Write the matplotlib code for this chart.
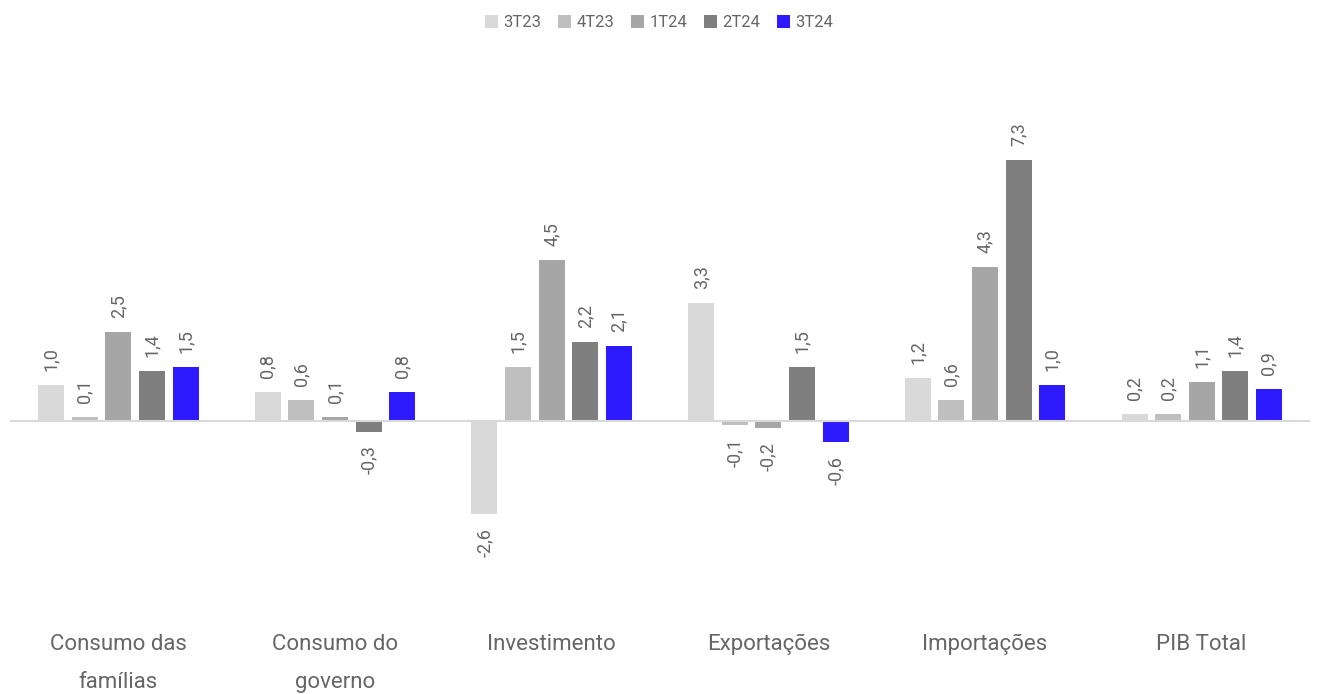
import numpy as np
import matplotlib.pyplot as plt

plt.rcParams['font.family'] = ['Roboto', 'DejaVu Sans']

categorias = ["Consumo das\nfamílias", "Consumo do\ngoverno", "Investimento",
              "Exportações", "Importações", "PIB Total"]
trimestres = ["3T23", "4T23", "1T24", "2T24", "3T24"]
valores = {
    "3T23": [1.0, 0.8, -2.6, 3.3, 1.2, 0.2],
    "4T23": [0.1, 0.6, 1.5, -0.1, 0.6, 0.2],
    "1T24": [2.5, 0.1, 4.5, -0.2, 4.3, 1.1],
    "2T24": [1.4, -0.3, 2.2, 1.5, 7.3, 1.4],
    "3T24": [1.5, 0.8, 2.1, -0.6, 1.0, 0.9],
}
cores = ["#d9d9d9", "#bfbfbf", "#a6a6a6", "#7f7f7f", "#2e1aff"]

fig = plt.figure(figsize=(13.18, 6.94), dpi=100)
ax = fig.add_axes([10/1318, 1 - 610/694, 1300/1318, 550/694])

x = np.arange(len(categorias))
largura = 0.12
passo = 0.155
texto = "#666666"

for i, (t, c) in enumerate(zip(trimestres, cores)):
    pos = x + (i - 2) * passo
    v = valores[t]
    ax.bar(pos, v, width=largura, color=c, label=t, zorder=2)
    for xp, val in zip(pos, v):
        rot = f"{val:.1f}".replace(".", ",")
        if val >= 0:
            ax.annotate(rot, (xp, val), xytext=(0, 10), textcoords="offset points",
                        rotation=90, ha="center", va="bottom", fontsize=13, color=texto)
        else:
            ax.annotate(rot, (xp, val), xytext=(0, -10), textcoords="offset points",
                        rotation=90, ha="center", va="top", fontsize=13, color=texto)

ax.axhline(0, color="#d9d9d9", linewidth=1.5, zorder=3)
ax.set_xlim(-0.5, len(categorias) - 0.5)
ax.set_ylim(-5.29, 10.1)
ax.set_yticks([])
ax.set_xticks(x)
ax.set_xticklabels(categorias, fontsize=16, color=texto, linespacing=2.1)
ax.tick_params(axis="x", length=0, pad=17)
for s in ax.spines.values():
    s.set_visible(False)

fig.legend(loc="upper center", bbox_to_anchor=(0.5, 1.0), ncol=5, frameon=False,
           fontsize=12, labelcolor=texto, handlelength=0.8, handleheight=0.8,
           handletextpad=0.3, columnspacing=1.0)

fig.savefig("out.png", dpi=100)
